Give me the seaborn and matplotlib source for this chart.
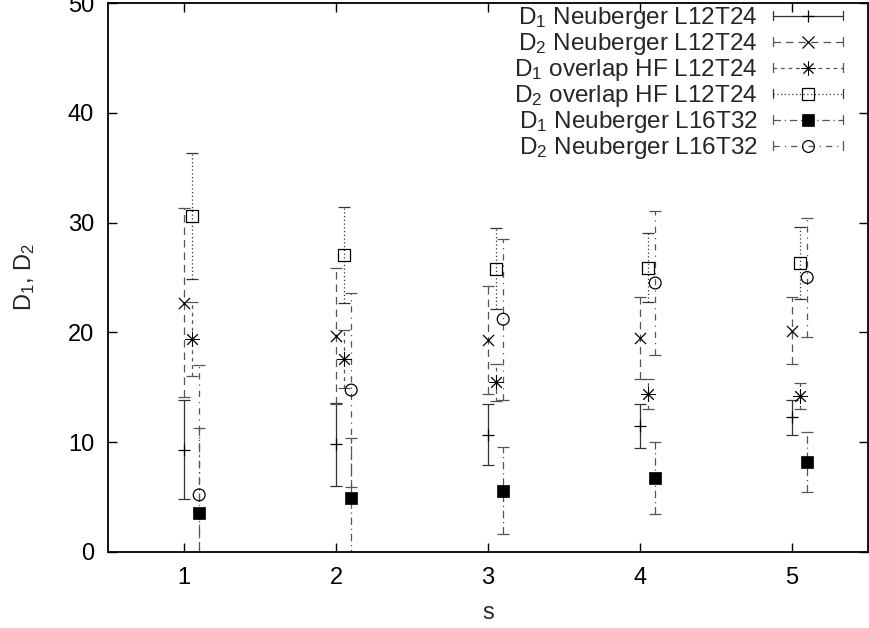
import numpy as np
import pandas as pd
import matplotlib
matplotlib.use("Agg")
import matplotlib.pyplot as plt
import seaborn as sns
from matplotlib.lines import Line2D
from matplotlib.legend_handler import HandlerBase

# ---------------- data ----------------
s_values = [1, 2, 3, 4, 5]

d1_neub_l12 = [9.3, 9.8, 10.7, 11.5, 12.25]
d1_neub_l12_err = [4.5, 3.8, 2.8, 2.0, 1.6]

d2_neub_l12 = [22.7, 19.7, 19.3, 19.5, 20.15]
d2_neub_l12_err = [8.6, 6.2, 4.9, 3.7, 3.05]

d1_ovl_l12 = [19.4, 17.6, 15.45, 14.4, 14.2]
d1_ovl_l12_err = [3.4, 2.65, 1.7, 1.4, 1.2]

d2_ovl_l12 = [30.6, 27.05, 25.8, 25.9, 26.3]
d2_ovl_l12_err = [5.7, 4.4, 3.7, 3.15, 3.3]

d1_neub_l16 = [3.55, 4.95, 5.6, 6.75, 8.2]
d1_neub_l16_err = [7.75, 5.45, 4.0, 3.25, 2.7]

d2_neub_l16 = [5.2, 14.75, 21.2, 24.5, 25.0]
d2_neub_l16_err = [11.8, 8.8, 7.35, 6.6, 5.4]

labels = [r"D$_1$ Neuberger L12T24", r"D$_2$ Neuberger L12T24",
          r"D$_1$ overlap HF L12T24", r"D$_2$ overlap HF L12T24",
          r"D$_1$ Neuberger L16T32", r"D$_2$ Neuberger L16T32"]

x_ticks = [1, 2, 3, 4, 5]
y_ticks = [0, 10, 20, 30, 40, 50]

# ---------------- style ----------------
sns.set_style("ticks")
plt.rcParams['font.family'] = ['Liberation Sans', 'DejaVu Sans']
plt.rcParams['mathtext.fontset'] = 'custom'
plt.rcParams['mathtext.rm'] = 'Liberation Sans'
plt.rcParams['mathtext.it'] = 'Liberation Sans'
plt.rcParams['mathtext.bf'] = 'Liberation Sans:bold'

FS = 17
LFS = 17.5

fig = plt.figure(figsize=(8.69, 6.28), dpi=100)
ax = fig.add_axes([108 / 869, 76 / 628, 760 / 869, 549 / 628])

ASTER = (8, 2, 0)

series = [
    dict(y=d1_neub_l12, e=d1_neub_l12_err, off=0.0, ls='-', col='#333333',
         marker='+', filled=False, ms=9, mew=0.9),
    dict(y=d2_neub_l12, e=d2_neub_l12_err, off=0.0, ls=(0, (6, 4)), col='#555555',
         marker='x', filled=False, ms=8, mew=0.9),
    dict(y=d1_ovl_l12, e=d1_ovl_l12_err, off=0.05, ls=(0, (3, 3)), col='#555555',
         marker=ASTER, filled=False, ms=10, mew=0.65),
    dict(y=d2_ovl_l12, e=d2_ovl_l12_err, off=0.05, ls=(0, (1, 2)), col='#333333',
         marker='s', filled=False, ms=8.5, mew=0.9),
    dict(y=d1_neub_l16, e=d1_neub_l16_err, off=0.1, ls=(0, (6, 3, 1, 3)), col='#555555',
         marker='s', filled=True, ms=8.5, mew=0.5),
    dict(y=d2_neub_l16, e=d2_neub_l16_err, off=0.1, ls=(0, (5, 4, 1, 4)), col='#555555',
         marker='o', filled=False, ms=8.5, mew=0.9),
]

for sr, lab in zip(series, labels):
    xs = np.array(s_values, dtype=float) + sr['off']
    df = pd.DataFrame({"s": xs, "D": sr['y']})
    eb = ax.errorbar(df["s"], df["D"], yerr=sr['e'], fmt='none', ecolor=sr['col'],
                     elinewidth=0.9, capsize=4.5, capthick=0.9, zorder=2)
    eb[2][0].set_linestyle(sr['ls'])
    size = sr['ms'] ** 2
    if sr['filled']:
        sns.scatterplot(data=df, x="s", y="D", marker=sr['marker'], s=size,
                        color='black', edgecolor='black', linewidth=sr['mew'], ax=ax,
                        zorder=3, legend=False)
    elif sr['marker'] in ('s', 'o'):
        sns.scatterplot(data=df, x="s", y="D", marker=sr['marker'], s=size,
                        facecolor='none', edgecolor='black', linewidth=sr['mew'], ax=ax,
                        zorder=3, legend=False)
    else:
        sns.scatterplot(data=df, x="s", y="D", marker=sr['marker'], s=size,
                        color='black', linewidth=sr['mew'], ax=ax, zorder=3, legend=False)

ax.set_xlim(0.5, 5.5)
ax.set_ylim(0, 50)
ax.set_xticks(x_ticks)
ax.set_yticks(y_ticks)
ax.tick_params(direction='in', top=True, right=True, length=6.5, width=1,
               labelsize=FS, color='black', labelcolor='black')
ax.tick_params(axis='y', pad=10)
ax.tick_params(axis='x', pad=11)
for sp in ax.spines.values():
    sp.set_visible(True)
    sp.set_color('black')
    sp.set_linewidth(1.3)

ax.set_xlabel("s", fontsize=FS, labelpad=9)
ax.set_ylabel(r"D$_1$, D$_2$", fontsize=FS, labelpad=22)
ax.grid(False)


class HandlerGP(HandlerBase):
    def create_artists(self, legend, orig_handle, xdescent, ydescent, width, height,
                       fontsize, trans):
        x0 = -xdescent
        x1 = -xdescent + width
        yc = (height - ydescent) / 2
        col = orig_handle.get_color()
        line = Line2D([x0, x1], [yc, yc], color=col, lw=0.9, transform=trans)
        line.set_linestyle(orig_handle._gp_ls)
        c = 3.2
        c1 = Line2D([x0, x0], [yc - c, yc + c], color=col, lw=0.9, transform=trans)
        c2 = Line2D([x1, x1], [yc - c, yc + c], color=col, lw=0.9, transform=trans)
        m = Line2D([(x0 + x1) / 2], [yc], ls='none', marker=orig_handle.get_marker(),
                   markersize=orig_handle.get_markersize(),
                   markerfacecolor=orig_handle.get_markerfacecolor(),
                   markeredgecolor='black',
                   markeredgewidth=orig_handle.get_markeredgewidth(), transform=trans)
        return [line, c1, c2, m]


handles = []
for sr, lab in zip(series, labels):
    h = Line2D([], [], color=sr['col'], marker=sr['marker'],
               markersize=sr['ms'], markeredgewidth=sr['mew'],
               markerfacecolor='black' if sr['filled'] else 'none', label=lab)
    h._gp_ls = sr['ls']
    handles.append(h)

leg = ax.legend(handles=handles, handler_map={Line2D: HandlerGP()}, loc='upper right',
                bbox_to_anchor=(0.974, 1.005), frameon=False, markerfirst=False,
                fontsize=LFS, handlelength=2.9, handletextpad=0.62, labelspacing=0.0,
                borderaxespad=0.1, borderpad=0.1)

fig.savefig("out.png", dpi=100)
